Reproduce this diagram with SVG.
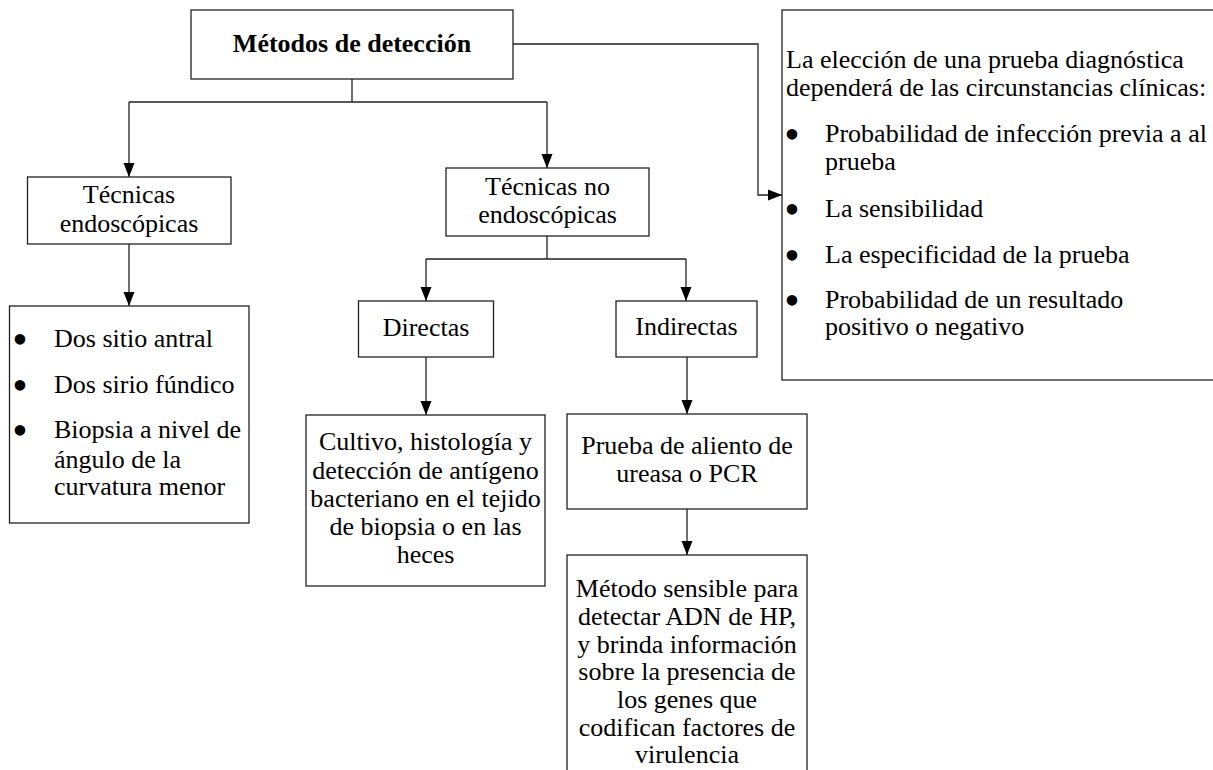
<svg xmlns="http://www.w3.org/2000/svg" width="1213" height="770" viewBox="0 0 1213 770">
<defs>
<style>
.box{fill:#fff;stroke:#222;stroke-width:1.3}
.t{font-family:'Liberation Serif','Times New Roman',Tinos,'DejaVu Serif',serif;font-size:26px;fill:#000}
.c{text-anchor:middle}
.b{font-weight:bold}
.bu{font-family:'Liberation Serif','Times New Roman',serif;font-size:44px;text-anchor:middle;fill:#000}
.ln{fill:none;stroke:#222;stroke-width:1.3}
</style>
<marker id="ah" markerUnits="userSpaceOnUse" markerWidth="14" markerHeight="14" viewBox="0 0 14 14" refX="14" refY="7" orient="auto">
<path d="M0,1.5 L14,7 L0,12.5 Z" fill="#000"/>
</marker>
</defs>
<rect width="1213" height="770" fill="#fff"/>
<g id="connectors">
<path class="ln" d="M352,79 V102 M129,102 H547"/>
<path class="ln" d="M129,102 V177" marker-end="url(#ah)"/>
<path class="ln" d="M547,102 V168" marker-end="url(#ah)"/>
<path class="ln" d="M513,44 H758 V195 H782" marker-end="url(#ah)"/>
<path class="ln" d="M129,244 V306" marker-end="url(#ah)"/>
<path class="ln" d="M547,236 V259 M426,259 H686"/>
<path class="ln" d="M426,259 V301" marker-end="url(#ah)"/>
<path class="ln" d="M686,259 V301" marker-end="url(#ah)"/>
<path class="ln" d="M426,357 V415" marker-end="url(#ah)"/>
<path class="ln" d="M687,357 V414" marker-end="url(#ah)"/>
<path class="ln" d="M687,509 V555" marker-end="url(#ah)"/>
</g>
<g id="metodos">
<rect class="box" x="191" y="10" width="322" height="69"/>
<text class="t c b" x="352" y="52">Métodos de detección</text>
</g>
<g id="eleccion">
<rect class="box" x="782" y="10" width="440" height="370"/>
<text class="t" x="786" y="68">La elección de una prueba diagnóstica</text>
<text class="t" x="786" y="96">dependerá de las circunstancias clínicas:</text>
<text class="bu" x="792" y="149">•</text>
<text class="t" x="825" y="142">Probabilidad de infección previa a al</text>
<text class="t" x="825" y="170">prueba</text>
<text class="bu" x="792" y="224">•</text>
<text class="t" x="825" y="217">La sensibilidad</text>
<text class="bu" x="792" y="270">•</text>
<text class="t" x="825" y="263">La especificidad de la prueba</text>
<text class="bu" x="792" y="315">•</text>
<text class="t" x="825" y="308">Probabilidad de un resultado</text>
<text class="t" x="825" y="335">positivo o negativo</text>
</g>
<g id="endoscopicas">
<rect class="box" x="27.5" y="177" width="203.5" height="67"/>
<text class="t c" x="129" y="203">Técnicas</text>
<text class="t c" x="129" y="232">endoscópicas</text>
</g>
<g id="no-endoscopicas">
<rect class="box" x="446" y="168" width="203" height="68"/>
<text class="t c" x="547.5" y="195">Técnicas no</text>
<text class="t c" x="547.5" y="223">endoscópicas</text>
</g>
<g id="biopsias">
<rect class="box" x="9.5" y="306" width="239.5" height="217"/>
<text class="bu" x="20" y="354">•</text>
<text class="t" x="54" y="347">Dos sitio antral</text>
<text class="bu" x="20" y="400">•</text>
<text class="t" x="54" y="393">Dos sirio fúndico</text>
<text class="bu" x="20" y="445">•</text>
<text class="t" x="54" y="438">Biopsia a nivel de</text>
<text class="t" x="54" y="468">ángulo de la</text>
<text class="t" x="54" y="495">curvatura menor</text>
</g>
<g id="directas">
<rect class="box" x="358.5" y="301" width="135" height="56"/>
<text class="t c" x="426" y="336">Directas</text>
</g>
<g id="indirectas">
<rect class="box" x="616" y="301" width="141" height="56"/>
<text class="t c" x="686.5" y="335">Indirectas</text>
</g>
<g id="cultivo">
<rect class="box" x="306" y="415" width="239" height="171"/>
<text class="t c" x="425.5" y="450">Cultivo, histología y</text>
<text class="t c" x="425.5" y="479">detección de antígeno</text>
<text class="t c" x="425.5" y="507">bacteriano en el tejido</text>
<text class="t c" x="425.5" y="535">de biopsia o en las</text>
<text class="t c" x="425.5" y="563">heces</text>
</g>
<g id="prueba">
<rect class="box" x="567" y="414" width="240" height="95"/>
<text class="t c" x="687" y="454">Prueba de aliento de</text>
<text class="t c" x="687" y="482">ureasa o PCR</text>
</g>
<g id="metodo-sensible">
<rect class="box" x="567" y="555" width="240" height="230"/>
<text class="t c" x="687" y="597">Método sensible para</text>
<text class="t c" x="687" y="625">detectar ADN de HP,</text>
<text class="t c" x="687" y="653">y brinda información</text>
<text class="t c" x="687" y="680">sobre la presencia de</text>
<text class="t c" x="687" y="708">los genes que</text>
<text class="t c" x="687" y="736">codifican factores de</text>
<text class="t c" x="687" y="763">virulencia</text>
</g>
</svg>
